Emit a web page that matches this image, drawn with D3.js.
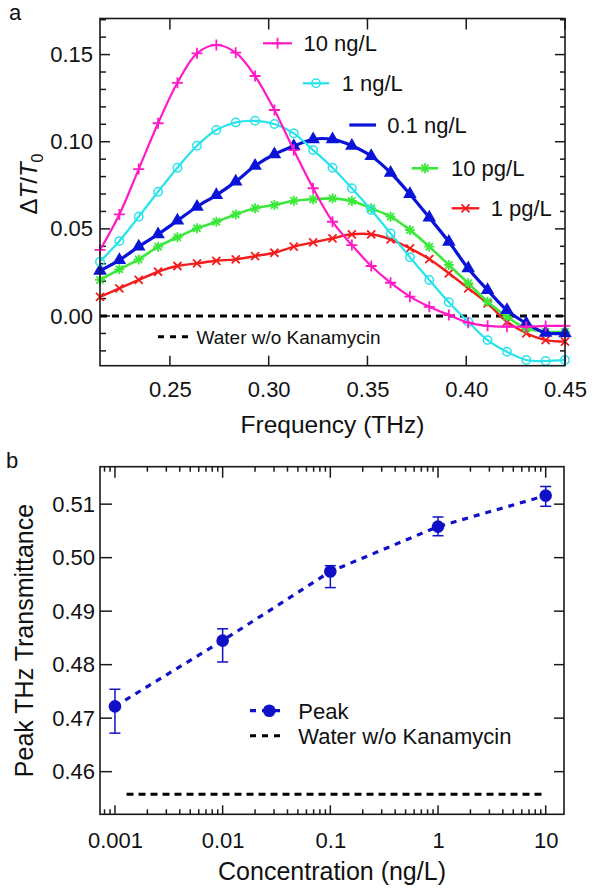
<!DOCTYPE html>
<html>
<head>
<meta charset="utf-8">
<script src="https://cdn.jsdelivr.net/npm/d3@7"></script>
<style>
  html, body { margin: 0; padding: 0; background: #fff; }
  svg { display: block; font-family: "Liberation Sans", Arial, Helvetica, sans-serif; }
</style>
</head>
<body>
<script>
// ---------- DATA: panel a ----------
const freq = [0.2146, 0.2244, 0.2342, 0.2440, 0.2538, 0.2637, 0.2735, 0.2833, 0.2931, 0.3029,
              0.3127, 0.3225, 0.3323, 0.3421, 0.3519, 0.3617, 0.3715, 0.3813, 0.3912, 0.4010,
              0.4108, 0.4206, 0.4304, 0.4402, 0.4500];
const ng10 = [0.0379, 0.0583, 0.0843, 0.1106, 0.1338, 0.1507, 0.1555, 0.1511, 0.1377, 0.1182,
              0.0952, 0.0733, 0.0541, 0.0407, 0.0287, 0.0191, 0.0111, 0.0053, 0.0006, -0.0038,
              -0.0056, -0.0061, -0.0061, -0.0057, -0.0057];
const ng1 = [0.0312, 0.0430, 0.0570, 0.0713, 0.0851, 0.0977, 0.1067, 0.1111, 0.1120, 0.1102,
             0.1048, 0.0952, 0.0851, 0.0733, 0.0608, 0.0474, 0.0337, 0.0207, 0.0079, -0.0033,
             -0.0138, -0.0205, -0.0252, -0.0258, -0.0252];
const ng01 = [0.0260, 0.0321, 0.0398, 0.0469, 0.0547, 0.0627, 0.0694, 0.0771, 0.0862, 0.0928,
              0.0975, 0.1014, 0.1014, 0.0977, 0.0918, 0.0822, 0.0699, 0.0565, 0.0426, 0.0273,
              0.0149, 0.0034, -0.0042, -0.0096, -0.0099];
const pg10 = [0.0207, 0.0268, 0.0325, 0.0398, 0.0452, 0.0503, 0.0541, 0.0583, 0.0618, 0.0637,
              0.0661, 0.0670, 0.0675, 0.0660, 0.0618, 0.0570, 0.0493, 0.0398, 0.0293, 0.0188,
              0.0082, -0.0004, -0.0071, -0.0090, -0.0090];
const pg1 = [0.0110, 0.0159, 0.0207, 0.0254, 0.0287, 0.0302, 0.0317, 0.0325, 0.0344, 0.0363,
             0.0398, 0.0423, 0.0446, 0.0469, 0.0469, 0.0440, 0.0388, 0.0327, 0.0245, 0.0159,
             0.0073, -0.0033, -0.0099, -0.0138, -0.0147];
const seriesNames = ["10 ng/L", "1 ng/L", "0.1 ng/L", "10 pg/L", "1 pg/L"];
const waterA = 0.0;
const xTicksA = [0.25, 0.30, 0.35, 0.40, 0.45];
const yTicksA = [0.00, 0.05, 0.10, 0.15];
const yMinorA = [-0.02, -0.01, 0.01, 0.02, 0.03, 0.04, 0.06, 0.07, 0.08, 0.09, 0.11, 0.12, 0.13, 0.14, 0.16, 0.17];

// ---------- DATA: panel b ----------
const conc = [0.001, 0.01, 0.1, 1, 10];
const peak = [0.4722, 0.4845, 0.4974, 0.5058, 0.5116];
const peakHi = [0.4754, 0.4867, 0.4985, 0.5076, 0.5133];
const peakLo = [0.4672, 0.4805, 0.4944, 0.5041, 0.5096];
const waterB = 0.4558;
const xTicksB = [0.001, 0.01, 0.1, 1, 10];
const xTickLabelsB = ["0.001", "0.01", "0.1", "1", "10"];
const yTicksB = [0.46, 0.47, 0.48, 0.49, 0.50, 0.51];

// ---------- drawing ----------
const W = 592, H = 891;
const svg = d3.select("body").append("svg").attr("width", W).attr("height", H);
const FRAME = "#1a1a1a";
const TICKFONT = 22;

// generic inward tick drawer using scales
function vTicks(g, scale, values, x, len, dir) { // ticks on vertical axis at x, dir +1 right, -1 left
  g.selectAll(null).data(values).enter().append("line")
    .attr("x1", x).attr("x2", x + dir * len)
    .attr("y1", d => scale(d)).attr("y2", d => scale(d))
    .attr("stroke", FRAME).attr("stroke-width", 1.5);
}
function hTicks(g, scale, values, y, len, dir) { // ticks on horizontal axis at y, dir +1 down, -1 up
  g.selectAll(null).data(values).enter().append("line")
    .attr("y1", y).attr("y2", y + dir * len)
    .attr("x1", d => scale(d)).attr("x2", d => scale(d))
    .attr("stroke", FRAME).attr("stroke-width", 1.5);
}
function labelAxis(g) {
  g.select(".domain").remove();
  g.selectAll(".tick line").remove();
  g.selectAll(".tick text").attr("fill", "#111").attr("font-size", TICKFONT)
    .attr("font-family", "Liberation Sans, Arial, sans-serif");
}

// Panel a layout
const A = {l: 100, r: 565, t: 18.5, b: 365.7};
const xA = d3.scaleLinear().domain([0.2146, 0.45]).range([A.l, A.r]);
const yA = d3.scaleLinear().domain([-0.0285, 0.1707]).range([A.b, A.t]);

const gA = svg.append("g");
// tick labels through d3 axes
gA.append("g").attr("transform", `translate(${A.l},0)`)
  .call(d3.axisLeft(yA).tickValues(yTicksA).tickSize(0).tickPadding(7).tickFormat(d3.format(".2f"))).call(labelAxis);
gA.append("g").attr("transform", `translate(0,${A.b})`)
  .call(d3.axisBottom(xA).tickValues(xTicksA).tickSize(0).tickPadding(16).tickFormat(d3.format(".2f"))).call(labelAxis);
// inward ticks
vTicks(gA, yA, yMinorA, A.l, 6, 1);
vTicks(gA, yA, yTicksA, A.l, 10, 1);
vTicks(gA, yA, yMinorA, A.r, 5, -1);
vTicks(gA, yA, yTicksA, A.r, 10, -1);
hTicks(gA, xA, xTicksA, A.b, 10, -1);
hTicks(gA, xA, xTicksA, A.t, 11, 1);

// water line a
gA.append("line").attr("x1", xA(0.2146)).attr("x2", xA(0.45))
  .attr("y1", yA(waterA)).attr("y2", yA(waterA))
  .attr("stroke", "#000").attr("stroke-width", 3).attr("stroke-dasharray", "7,5");

// markers
function markerPath(type, s) {
  switch (type) {
    case "plus": return `M${-s},0H${s}M0,${-s}V${s}`;
    case "x": return `M${-s},${-s}L${s},${s}M${-s},${s}L${s},${-s}`;
    case "star": {
      const d = s * 0.72;
      return `M${-s},0H${s}M0,${-s}V${s}M${-d},${-d}L${d},${d}M${-d},${d}L${d},${-d}`;
    }
  }
}
const series = [
  {name: seriesNames[0], v: ng10, color: "#ff1ac6", w: 2.2, m: "plus"},
  {name: seriesNames[1], v: ng1,  color: "#28e3ec", w: 2.2, m: "circle"},
  {name: seriesNames[2], v: ng01, color: "#0a14d8", w: 3.2, m: "tri"},
  {name: seriesNames[3], v: pg10, color: "#3be93b", w: 2.6, m: "star"},
  {name: seriesNames[4], v: pg1,  color: "#f41c1c", w: 2.4, m: "x"}
];
const lineA = d3.line().x(d => xA(d[0])).y(d => yA(d[1])).curve(d3.curveCatmullRom.alpha(0.5));

function drawMarker(g, type, color, x, y) {
  if (type === "circle") {
    g.append("circle").attr("cx", x).attr("cy", y).attr("r", 4.2)
      .attr("fill", "none").attr("stroke", color).attr("stroke-width", 1.5);
  } else if (type === "tri") {
    g.append("path").attr("d", d3.symbol().type(d3.symbolTriangle).size(80)())
      .attr("transform", `translate(${x},${y})`).attr("fill", color);
  } else {
    const s = type === "plus" ? 5.5 : (type === "star" ? 5 : 4);
    g.append("path").attr("d", markerPath(type, s)).attr("transform", `translate(${x},${y})`)
      .attr("fill", "none").attr("stroke", color).attr("stroke-width", 1.8);
  }
}

// draw in reverse so 10 ng/L on top
series.slice().reverse().forEach(s => {
  const pts = freq.map((f, i) => [f, s.v[i]]);
  const g = gA.append("g");
  g.append("path").attr("d", lineA(pts)).attr("fill", "none")
    .attr("stroke", s.color).attr("stroke-width", s.w);
  pts.forEach(p => drawMarker(g, s.m, s.color, xA(p[0]), yA(p[1])));
});

// legend a
const legA = [
  {x1: 263, x2: 292, y: 43.3, tx: 303.5},
  {x1: 302.7, x2: 329.3, y: 83.3, tx: 341.7},
  {x1: 349.3, x2: 376, y: 125, tx: 387.3},
  {x1: 411.7, x2: 438.3, y: 168.3, tx: 451},
  {x1: 451.7, x2: 479.3, y: 208.3, tx: 490.7}
];
series.forEach((s, i) => {
  const L = legA[i];
  const g = gA.append("g");
  g.append("line").attr("x1", L.x1).attr("x2", L.x2).attr("y1", L.y).attr("y2", L.y)
    .attr("stroke", s.color).attr("stroke-width", s.w);
  if (s.m !== "tri") drawMarker(g, s.m, s.color, (L.x1 + L.x2) / 2, L.y);
  g.append("text").attr("x", L.tx).attr("y", L.y).attr("dy", "0.36em")
    .attr("font-size", 22).attr("fill", "#111").text(s.name);
});
gA.append("line").attr("x1", 158).attr("x2", 189).attr("y1", 336.7).attr("y2", 336.7)
  .attr("stroke", "#000").attr("stroke-width", 3).attr("stroke-dasharray", "6,6");
gA.append("text").attr("x", 196.5).attr("y", 336.7).attr("dy", "0.36em")
  .attr("font-size", 19).attr("fill", "#111").text("Water w/o Kanamycin");

// frame a
gA.append("rect").attr("x", A.l).attr("y", A.t).attr("width", A.r - A.l).attr("height", A.b - A.t)
  .attr("fill", "none").attr("stroke", FRAME).attr("stroke-width", 1.6);

// axis titles a
gA.append("text").attr("x", (A.l + A.r) / 2).attr("y", 433).attr("text-anchor", "middle")
  .attr("font-size", 24.5).attr("fill", "#111").text("Frequency (THz)");
const yl = gA.append("text").attr("transform", "translate(37,184) rotate(-90)")
  .attr("text-anchor", "middle").attr("font-size", 24).attr("fill", "#111");
yl.append("tspan").text("\u0394");
yl.append("tspan").attr("font-style", "italic").text("T");
yl.append("tspan").text("/");
yl.append("tspan").attr("font-style", "italic").text("T");
yl.append("tspan").attr("font-size", 16).attr("dy", 6).text("0");

svg.append("text").attr("x", 9).attr("y", 20).attr("font-size", 22).attr("fill", "#111").text("a");
svg.append("text").attr("x", 6).attr("y", 468).attr("font-size", 22).attr("fill", "#111").text("b");

// ---------- Panel b ----------
const B = {l: 100, r: 564, t: 466.7, b: 814.3};
const xB = d3.scaleLog().domain([Math.pow(10, -3.139), Math.pow(10, 1.17)]).range([B.l, B.r]);
const yB = d3.scaleLinear().domain([0.45203, 0.5170]).range([B.b, B.t]);
const gB = svg.append("g");

const minorB = [];
[-4, -3, -2, -1, 0, 1].forEach(e => {
  for (let k = 2; k <= 9; k++) {
    const v = k * Math.pow(10, e);
    if (v > xB.domain()[0] && v < xB.domain()[1]) minorB.push(v);
  }
});
gB.append("g").attr("transform", `translate(0,${B.b})`)
  .call(d3.axisBottom(xB).tickValues(xTicksB).tickSize(0).tickPadding(18)
    .tickFormat((d, i) => xTickLabelsB[i])).call(labelAxis);
gB.append("g").attr("transform", `translate(${B.l},0)`)
  .call(d3.axisLeft(yB).tickValues(yTicksB).tickSize(0).tickPadding(5).tickFormat(d3.format(".2f"))).call(labelAxis);
hTicks(gB, xB, minorB, B.b, 5, -1);
hTicks(gB, xB, xTicksB, B.b, 9, -1);
hTicks(gB, xB, minorB, B.t, 5, 1);
hTicks(gB, xB, xTicksB, B.t, 11, 1);
vTicks(gB, yB, yTicksB, B.l, 12, 1);
vTicks(gB, yB, yTicksB, B.r, 10, -1);

// water line b
gB.append("line").attr("x1", xB(0.00128)).attr("x2", xB(10))
  .attr("y1", yB(waterB)).attr("y2", yB(waterB))
  .attr("stroke", "#000").attr("stroke-width", 3).attr("stroke-dasharray", "7,5");

const BLUE = "#1010c8";
const lineB = d3.line().x(d => xB(d[0])).y(d => yB(d[1]));
gB.append("path").attr("d", lineB(conc.map((c, i) => [c, peak[i]])))
  .attr("fill", "none").attr("stroke", BLUE).attr("stroke-width", 3.2).attr("stroke-dasharray", "6,6");
conc.forEach((c, i) => {
  const x = xB(c);
  gB.append("line").attr("x1", x).attr("x2", x).attr("y1", yB(peakLo[i])).attr("y2", yB(peakHi[i]))
    .attr("stroke", BLUE).attr("stroke-width", 1.5);
  [peakLo[i], peakHi[i]].forEach(v => {
    gB.append("line").attr("x1", x - 5.5).attr("x2", x + 5.5).attr("y1", yB(v)).attr("y2", yB(v))
      .attr("stroke", BLUE).attr("stroke-width", 1.5);
  });
  gB.append("circle").attr("cx", x).attr("cy", yB(peak[i])).attr("r", 6.3).attr("fill", BLUE);
});

// legend b
gB.append("line").attr("x1", 250).attr("x2", 282).attr("y1", 710.7).attr("y2", 710.7)
  .attr("stroke", BLUE).attr("stroke-width", 3.2).attr("stroke-dasharray", "6,6");
gB.append("circle").attr("cx", 269.3).attr("cy", 710.7).attr("r", 6.3).attr("fill", BLUE);
gB.append("text").attr("x", 298.3).attr("y", 711.5).attr("dy", "0.36em")
  .attr("font-size", 22).attr("fill", "#111").text("Peak");
gB.append("line").attr("x1", 250).attr("x2", 282).attr("y1", 735.7).attr("y2", 735.7)
  .attr("stroke", "#000").attr("stroke-width", 3).attr("stroke-dasharray", "6,6");
gB.append("text").attr("x", 298.3).attr("y", 736.5).attr("dy", "0.36em")
  .attr("font-size", 22).attr("fill", "#111").text("Water w/o Kanamycin");

gB.append("rect").attr("x", B.l).attr("y", B.t).attr("width", B.r - B.l).attr("height", B.b - B.t)
  .attr("fill", "none").attr("stroke", FRAME).attr("stroke-width", 1.6);

gB.append("text").attr("x", (B.l + B.r) / 2).attr("y", 880).attr("text-anchor", "middle")
  .attr("font-size", 25).attr("fill", "#111").text("Concentration (ng/L)");
gB.append("text").attr("transform", `translate(33,${(B.t + B.b) / 2}) rotate(-90)`)
  .attr("text-anchor", "middle").attr("font-size", 25).attr("fill", "#111").text("Peak THz Transmittance");
</script>
</body>
</html>
